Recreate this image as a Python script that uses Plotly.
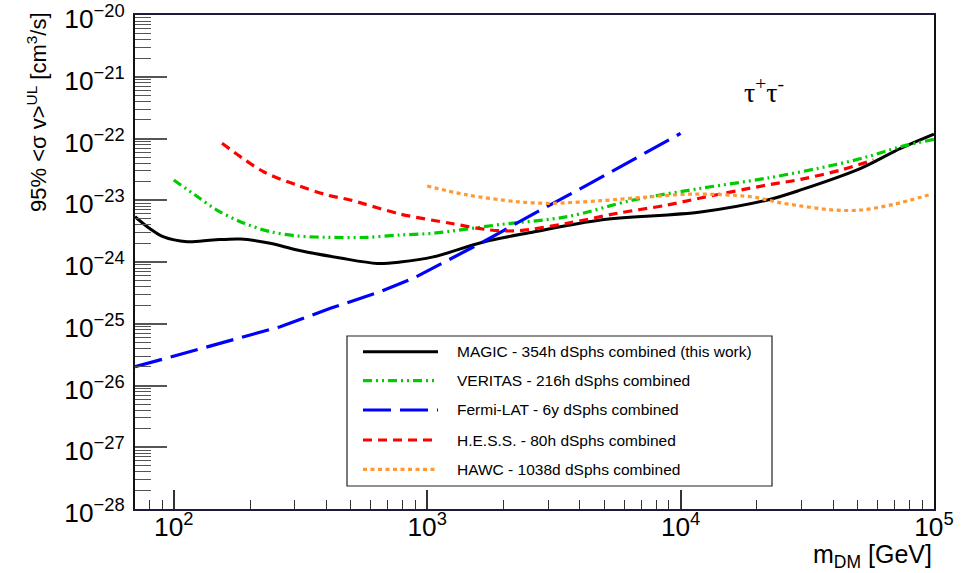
import numpy as np
import plotly.graph_objects as go

# ---------------- data ----------------
magic_mass = [70.3, 80.6, 90.7, 113, 143, 183, 240, 307, 454, 635, 783, 1057, 1667,
              2625, 4830, 12000, 22030, 29790, 51400, 73800, 100000]
magic_sv = [5.42e-24, 3.45e-24, 2.57e-24, 2.13e-24, 2.27e-24, 2.36e-24, 2.01e-24, 1.56e-24,
            1.16e-24, 9.5e-25, 1.0e-24, 1.21e-24, 2.11e-24, 3.06e-24, 4.79e-24, 6.45e-24,
            1.01e-23, 1.47e-23, 3.29e-23, 6.93e-23, 1.18e-22]

veritas_mass = [100, 123, 148, 183, 240, 307, 403, 580, 783, 1057, 1945, 3570, 6516,
                12000, 22030, 40200, 54700, 73800, 100000]
veritas_sv = [2.13e-23, 1.17e-23, 6.95e-24, 4.50e-24, 3.10e-24, 2.64e-24, 2.51e-24, 2.51e-24,
              2.74e-24, 2.92e-24, 4.05e-24, 5.42e-24, 1.01e-23, 1.56e-23, 2.29e-23, 3.72e-23,
              5.07e-23, 7.36e-23, 9.70e-23]

fermi_mass = [70.3, 263, 415, 653, 881, 1233, 1667, 2800, 4290, 10000]
fermi_sv = [2.01e-26, 8.95e-26, 1.78e-25, 3.30e-25, 5.45e-25, 1.11e-24, 2.13e-24, 6.95e-24,
            1.77e-23, 1.21e-22]

hess_mass = [155, 226, 306, 402, 497, 783, 1233, 1775, 2270, 3570, 5630, 8880, 12000,
             22030, 29790, 42900, 57800]
hess_sv = [8.36e-23, 2.90e-23, 1.77e-23, 1.22e-23, 1.01e-23, 5.98e-24, 4.24e-24, 3.30e-24,
           3.21e-24, 4.24e-24, 6.15e-24, 8.38e-24, 1.09e-23, 1.77e-23, 2.18e-23, 3.09e-23,
           4.49e-23]

hawc_mass = [1000, 1440, 2270, 3060, 4830, 7600, 11250, 18900, 25500, 40200, 51400, 69400, 95300]
hawc_sv = [1.70e-23, 1.22e-23, 9.46e-24, 8.93e-24, 9.84e-24, 1.14e-23, 1.26e-23, 1.14e-23,
           8.93e-24, 6.95e-24, 6.95e-24, 8.59e-24, 1.22e-23]

legend_labels = [
    "MAGIC - 354h dSphs combined (this work)",
    "VERITAS - 216h dSphs combined",
    "Fermi-LAT - 6y dSphs combined",
    "H.E.S.S. - 80h dSphs combined",
    "HAWC - 1038d dSphs combined",
]

# ---------------- styles ----------------
W, H = 970, 573
L, R, T, B = 135, 36, 15, 64
PW, PH = W - L - R, H - T - B


def px(x):
    return (x - L) / PW


def py(y):
    return (H - B - y) / PH


styles = [
    dict(color="#000000", dash="solid", width=3, shape="spline"),
    dict(color="#00cc00", dash="9px,4px,2px,4px,2px,4px", width=3.2, shape="spline"),
    dict(color="#0000ff", dash="28px,9px", width=3.2, shape="linear"),
    dict(color="#ff0000", dash="9px,6px", width=3.2, shape="spline"),
    dict(color="#ff9933", dash="4px,3.5px", width=3.2, shape="spline"),
]

series = [
    (magic_mass, magic_sv),
    (veritas_mass, veritas_sv),
    (fermi_mass, fermi_sv),
    (hess_mass, hess_sv),
    (hawc_mass, hawc_sv),
]

fig = go.Figure()
for (m, sv), st, name in zip(series, styles, legend_labels):
    fig.add_trace(go.Scatter(
        x=m, y=sv, mode="lines", name=name, showlegend=False,
        line=dict(color=st["color"], dash=st["dash"], width=st["width"],
                  shape=st["shape"], smoothing=0.9),
    ))

# ---------------- manual legend box ----------------
shapes = [dict(type="rect", xref="paper", yref="paper",
               x0=px(347), x1=px(772), y0=py(486), y1=py(336),
               line=dict(color="#222222", width=1.2), fillcolor="white", layer="above")]
annotations = []
rows_y = [351.7, 380.7, 410, 440, 469.3]
for st, label, yy in zip(styles, legend_labels, rows_y):
    shapes.append(dict(type="line", xref="paper", yref="paper",
                       x0=px(363), x1=px(438), y0=py(yy), y1=py(yy),
                       line=dict(color=st["color"], dash=st["dash"], width=st["width"]),
                       layer="above"))
    annotations.append(dict(text=label, xref="paper", yref="paper", x=px(455), y=py(yy),
                            xanchor="left", yanchor="middle", showarrow=False,
                            font=dict(family="Liberation Sans", size=15.5, color="black")))

# axis titles and label
annotations.append(dict(text="95% &lt;σ v&gt;<sup>UL</sup> [cm<sup>3</sup>/s]",
                        xref="paper", yref="paper", x=px(37), y=py(112),
                        textangle=-90, xanchor="center", yanchor="middle", showarrow=False,
                        font=dict(family="Liberation Sans", size=22, color="black")))
annotations.append(dict(text="m<sub>DM</sub> [GeV]", xref="paper", yref="paper",
                        x=px(934), y=py(556), xanchor="right", yanchor="middle",
                        showarrow=False,
                        font=dict(family="Liberation Sans", size=25, color="black")))
annotations.append(dict(text="τ<sup>+</sup>τ<sup>-</sup>", xref="paper", yref="paper",
                        x=px(764), y=py(90), xanchor="center", yanchor="middle",
                        showarrow=False,
                        font=dict(family="Liberation Serif", size=28, color="black")))

tickfont = dict(family="Liberation Sans", size=21, color="black")

fig.update_layout(
    width=W, height=H, autosize=False,
    margin=dict(l=L, r=R, t=T, b=B, pad=0, autoexpand=False),
    paper_bgcolor="white", plot_bgcolor="white",
    shapes=shapes, annotations=annotations, showlegend=False,
    xaxis=dict(type="log", range=[np.log10(70.3), 5.0001], dtick=1, exponentformat="power",
               ticks="inside", ticklen=19, tickwidth=1.5, tickcolor="#333333",
               minor=dict(ticks="inside", ticklen=9, tickwidth=1.3, tickcolor="#333333",
                          dtick="D1", showgrid=False),
               showline=True, linecolor="#1c1c3a", linewidth=2, mirror=True,
               showgrid=False, zeroline=False, tickfont=tickfont, ticklabelstandoff=-5,
               ticklabeloverflow="allow", automargin=False),
    yaxis=dict(type="log", range=[-28.0001, -19.9995], dtick=1, exponentformat="power",
               ticks="inside", ticklen=32, tickwidth=1.5, tickcolor="#555555",
               minor=dict(ticks="inside", ticklen=16, tickwidth=1.3, tickcolor="#555555",
                          dtick="D1", showgrid=False),
               showline=True, linecolor="#111111", linewidth=2.2, mirror=True,
               showgrid=False, zeroline=False, tickfont=tickfont, ticklabelstandoff=4,
               ticklabelshift=4, ticklabeloverflow="allow", automargin=False),
)

fig.write_html("out.html")
